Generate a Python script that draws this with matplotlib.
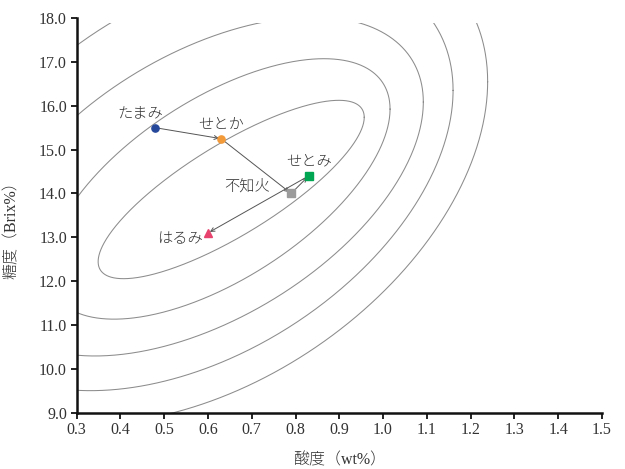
import numpy as np
import matplotlib
matplotlib.use("Agg")
import matplotlib.pyplot as plt
from matplotlib.patches import Rectangle

plt.rcParams['font.family'] = ['Liberation Serif', 'Noto Sans CJK JP']

# Varieties: acid (wt%) and sugar (Brix%)
names = ['たまみ', 'せとか', '不知火', 'せとみ', 'はるみ']
acid = [0.48, 0.63, 0.79, 0.83, 0.60]
brix = [15.5, 15.25, 14.0, 14.4, 13.1]
colors = ['#26489a', '#f29a3a', '#9b9b9b', '#00a651', '#e8436f']
markers = ['o', 'o', 's', 's', '^']
label_offsets = [(-15, 14), (0, 13), (-44, 7), (0, 14), (-28, -7)]  # pixels

# Breeding sequence drawn as arrows (indices into names)
sequence = [0, 1, 2, 3, 4]

# Iso-lines of the evaluation surface as ellipses:
# centre (acid, brix), half-width in acid, half-height in brix, correlation
iso_cx = [0.653, 0.625, 0.591, 0.572, 0.583]
iso_cy = [14.091, 14.104, 14.160, 14.363, 14.367]
iso_w = [0.304, 0.391, 0.501, 0.588, 0.656]
iso_h = [2.034, 2.970, 3.866, 4.860, 5.625]
iso_rho = [0.809, 0.613, 0.498, 0.409, 0.388]
grid_top = 17.88

xticks = np.round(np.arange(0.3, 1.501, 0.1), 1)
yticks = np.round(np.arange(9.0, 18.01, 1.0), 1)

text_color = '#333333'

fig = plt.figure(figsize=(6.25, 4.69), dpi=100)
ax = fig.add_axes([0.1227, 0.12, 0.8403, 0.8414])
ax.set_xlim(0.3, 1.5)
ax.set_ylim(9.0, 18.0)

clip = Rectangle((0.3, 9.0), 1.2, grid_top - 9.0, transform=ax.transData)
t = np.linspace(0, 2 * np.pi, 800)
for cx, cy, w, h, rho in zip(iso_cx, iso_cy, iso_w, iso_h, iso_rho):
    phi = np.arccos(rho)
    line, = ax.plot(cx + w * np.cos(t), cy + h * np.cos(t - phi),
                    color='#8c8c8c', lw=0.75, zorder=1)
    line.set_clip_path(clip)

for a, b in zip(sequence[:-1], sequence[1:]):
    ax.annotate('', xy=(acid[b], brix[b]), xytext=(acid[a], brix[a]),
                arrowprops=dict(arrowstyle='->', color='#555555', lw=0.7,
                                shrinkA=0, shrinkB=1.5, mutation_scale=7),
                zorder=2)

marker_sizes = {'o': 5.2, 's': 5.5, '^': 5.5}
for n, x, y, c, m, off in zip(names, acid, brix, colors, markers, label_offsets):
    ax.plot(x, y, marker=m, color=c, ms=marker_sizes[m], mec=c, ls='none',
            zorder=3)
    ax.annotate(n, (x, y), xytext=off, textcoords='offset pixels',
                ha='center', va='center', fontsize=11, color=text_color,
                fontweight='light', zorder=4)

for side in ('top', 'right'):
    ax.spines[side].set_visible(False)
for side in ('left', 'bottom'):
    ax.spines[side].set_linewidth(1.8)
    ax.spines[side].set_color('#111111')

ax.set_xticks(xticks)
ax.set_xticklabels([f'{v:.1f}' for v in xticks])
ax.set_yticks(yticks)
ax.set_yticklabels([f'{v:.1f}' for v in yticks])
ax.tick_params(direction='out', length=4, width=1.3, colors='#111111',
               labelcolor=text_color, labelsize=11.5, pad=3)

ax.set_xlabel('酸度（wt%）', fontsize=11.5, color=text_color, labelpad=10,
              fontweight='light')
ax.set_ylabel('糖度（Brix%）', fontsize=11.5, color=text_color,
              fontweight='light')
ax.yaxis.set_label_coords(-0.108, 0.473)

fig.savefig('out.png')
